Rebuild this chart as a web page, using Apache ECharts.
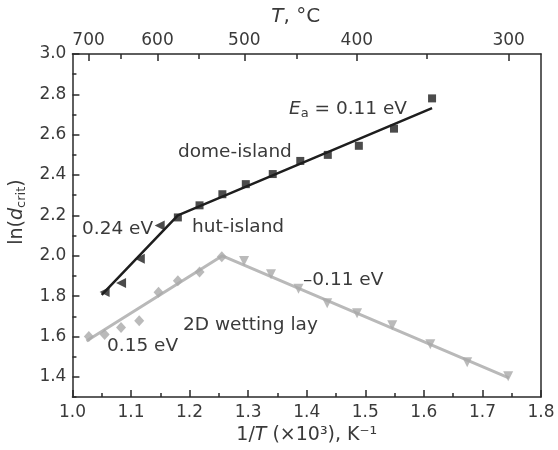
<!DOCTYPE html>
<html><head><meta charset="utf-8">
<script src="https://cdn.jsdelivr.net/npm/echarts@6/dist/echarts.min.js"></script>
<style>html,body{margin:0;padding:0;background:#fff}#c{width:558px;height:450px}</style>
</head><body><div id="c"></div>
<script>
// hut-island (black left triangles)
const hutX = [1.055, 1.083, 1.115, 1.149];
const hutY = [1.82, 1.865, 1.985, 2.15];
// dome-island (black squares)
const domeX = [1.180, 1.217, 1.256, 1.296, 1.342, 1.389, 1.436, 1.489, 1.549, 1.614];
const domeY = [2.19, 2.25, 2.305, 2.355, 2.405, 2.47, 2.50, 2.545, 2.63, 2.78];
// 2D wetting layer (gray diamonds, gray down triangles)
const wetDiaX = [1.028, 1.055, 1.083, 1.114, 1.147, 1.180, 1.217, 1.255];
const wetDiaY = [1.60, 1.61, 1.645, 1.678, 1.819, 1.876, 1.92, 1.995];
const wetTriX = [1.293, 1.339, 1.386, 1.435, 1.486, 1.546, 1.611, 1.674, 1.744];
const wetTriY = [1.974, 1.908, 1.836, 1.765, 1.715, 1.655, 1.562, 1.472, 1.403];
// fit lines
const islandFitX = [1.05, 1.18, 1.614];
const islandFitY = [1.806, 2.20, 2.732];
const wetFitX = [1.024, 1.256, 1.745];
const wetFitY = [1.578, 2.0, 1.395];
// axis labels
const tempLabels = [700, 600, 500, 400, 300];
const tempMinor = [650, 550, 450, 350];
const yLabels = [1.4, 1.6, 1.8, 2.0, 2.2, 2.4, 2.6, 2.8, 3.0];

const toInvT = t => 1000 / (t + 273.15);
const zip = (a, b) => a.map((v, i) => [v, b[i]]);

const FF = 'DejaVu Sans';
const TXT = '#3a3a3a';
const AX = '#2a2a2a';
const BLK = '#1e1e1e';
const GRY = '#a9a9a9';

const axisLine = {show: true, lineStyle: {color: AX, width: 1.5}};
const tickStyle = {color: AX, width: 1.5};
const lab = {fontSize: 17, color: TXT, fontFamily: FF};

const chart = echarts.init(document.getElementById('c'));
chart.setOption({
  animation: false,
  backgroundColor: '#fff',
  grid: {left: 71, right: 17, top: 54, bottom: 51, containLabel: false},
  xAxis: [
    {type: 'value', position: 'bottom', min: 1.0, max: 1.8, interval: 0.1,
     axisLine, splitLine: {show: false},
     axisTick: {inside: true, length: 7, lineStyle: tickStyle},
     minorTick: {show: true, splitNumber: 2, length: 4, lineStyle: tickStyle},
     axisLabel: Object.assign({margin: 7, formatter: v => v.toFixed(1)}, lab),
     name: '1/{it|T} (×10³), K⁻¹', nameLocation: 'middle', nameGap: 29,
     nameTextStyle: {fontSize: 19, color: TXT, fontFamily: FF,
       rich: {it: {fontSize: 19, fontStyle: 'italic', color: TXT, fontFamily: FF}}}},
    {type: 'value', position: 'top', min: 1.0, max: 1.8,
     axisLine, splitLine: {show: false},
     axisTick: {inside: true, length: 7, customValues: tempLabels.map(toInvT), lineStyle: tickStyle},
     axisLabel: Object.assign({margin: 5, customValues: tempLabels.map(toInvT),
       formatter: v => String(Math.round(1000 / v - 273.15))}, lab),
     name: '{it|T}, °C', nameLocation: 'middle', nameGap: 16,
     nameTextStyle: {fontSize: 20, color: TXT, fontFamily: FF, padding: [0, 22, 0, 0],
       rich: {it: {fontSize: 20, fontStyle: 'italic', color: TXT, fontFamily: FF}}}},
    {type: 'value', position: 'top', min: 1.0, max: 1.8,
     axisLine: {show: false}, splitLine: {show: false},
     axisTick: {inside: true, length: 5, customValues: tempMinor.map(toInvT), lineStyle: tickStyle},
     axisLabel: {show: false}}
  ],
  yAxis: [
    {type: 'value', position: 'left', min: 1.3, max: 3.0,
     axisLine, splitLine: {show: false},
     axisTick: {inside: true, length: 7, customValues: yLabels, lineStyle: tickStyle},
     axisLabel: Object.assign({margin: 6, customValues: yLabels, formatter: v => v.toFixed(1)}, lab),
     name: 'ln({it|d}{sub|crit})', nameLocation: 'middle', nameGap: 34,
     nameTextStyle: {fontSize: 19, color: TXT, fontFamily: FF, padding: [0, 0, 0, 27],
       rich: {it: {fontSize: 19, fontStyle: 'italic', color: TXT, fontFamily: FF},
              sub: {fontSize: 13, color: TXT, fontFamily: FF, padding: [9, 0, 0, 0]}}}},
    {type: 'value', position: 'left', min: 1.3, max: 3.0, interval: 0.1,
     axisLine: {show: false}, splitLine: {show: false},
     axisTick: {inside: true, length: 4, lineStyle: tickStyle},
     axisLabel: {show: false}},
    {type: 'value', position: 'right', min: 1.3, max: 3.0,
     axisLine, splitLine: {show: false}, axisTick: {show: false}, axisLabel: {show: false}}
  ],
  series: [
    {type: 'line', data: zip(wetFitX, wetFitY), symbol: 'none',
     lineStyle: {color: '#b9b9b9', width: 3}, z: 1},
    {type: 'line', data: zip(islandFitX, islandFitY), symbol: 'none',
     lineStyle: {color: BLK, width: 2.5}, z: 1},
    {type: 'scatter', data: zip(wetDiaX, wetDiaY), symbol: 'diamond', symbolSize: [10, 11],
     itemStyle: {color: GRY}, z: 2},
    {type: 'scatter', data: zip(wetTriX, wetTriY), symbol: 'triangle', symbolRotate: 180, symbolSize: 10,
     itemStyle: {color: GRY}, z: 2},
    {type: 'scatter', data: zip(hutX, hutY), symbol: 'triangle', symbolRotate: 90, symbolSize: 10,
     itemStyle: {color: BLK}, z: 3},
    {type: 'scatter', data: zip(domeX, domeY), symbol: 'rect', symbolSize: 8,
     itemStyle: {color: BLK}, z: 3}
  ],
  graphic: [
    {type: 'text', x: 289, y: 109, style: {text: '{i|E}{s|a} = 0.11 eV', fill: TXT, fontSize: 18.5, fontFamily: FF, verticalAlign: 'middle',
      rich: {i: {fontStyle: 'italic', fontSize: 18.5, fontFamily: FF, fill: TXT},
             s: {fontSize: 13, fontFamily: FF, fill: TXT, padding: [9, 0, 0, 0]}}}},
    {type: 'text', x: 178, y: 152, style: {text: 'dome-island', fill: TXT, fontSize: 18.5, fontFamily: FF, verticalAlign: 'middle'}},
    {type: 'text', x: 82, y: 229, style: {text: '0.24 eV', fill: TXT, fontSize: 18.5, fontFamily: FF, verticalAlign: 'middle'}},
    {type: 'text', x: 192, y: 227, style: {text: 'hut-island', fill: TXT, fontSize: 18.5, fontFamily: FF, verticalAlign: 'middle'}},
    {type: 'text', x: 183, y: 325, style: {text: '2D wetting lay', fill: TXT, fontSize: 18.5, fontFamily: FF, verticalAlign: 'middle'}},
    {type: 'text', x: 107, y: 346, style: {text: '0.15 eV', fill: TXT, fontSize: 18.5, fontFamily: FF, verticalAlign: 'middle'}},
    {type: 'text', x: 303, y: 280, style: {text: '\u20130.11 eV', fill: TXT, fontSize: 18.5, fontFamily: FF, verticalAlign: 'middle'}}
  ]
});
</script>
</body></html>
